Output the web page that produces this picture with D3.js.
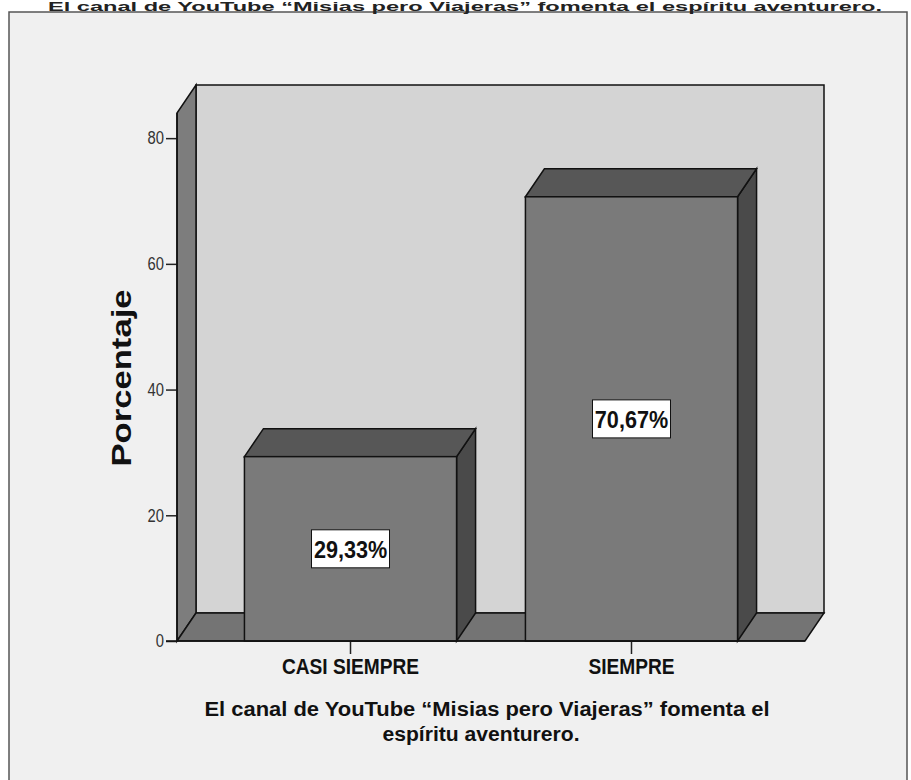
<html>
<style>
body { margin: 0; background: #fff; }
.axis path, .axis line { stroke: #222; }
.axis text { font-family: "Liberation Sans", Arial, sans-serif; }
</style>
<svg width="911" height="780"></svg>
<script src="https://d3js.org/d3.v7.min.js"></script>
<script>

var categories = ["CASI SIEMPRE", "SIEMPRE"];
var values = [29.33, 70.67];
var valueLabels = ["29,33%", "70,67%"];
var yTicks = [0, 20, 40, 60, 80];

var svg = d3.select("svg");
var sans = '"Liberation Sans", Arial, sans-serif';

// squeeze text horizontally to look like Arial Narrow
function narrowize(sel, f) {
    sel.each(function() {
        var w = this.getComputedTextLength();
        d3.select(this).attr("textLength", w * f).attr("lengthAdjust", "spacingAndGlyphs");
    });
}

// 3d depth offset
var dx = 19, dy = -28;

var x = d3.scaleBand()
    .domain(categories)
    .range([177, 805])
    .paddingInner(0.245)
    .paddingOuter(0.24);

var y = d3.scaleLinear()
    .domain([0, 84])
    .range([641, 113]);

// panel
svg.append("rect")
    .attr("x", 9).attr("y", 12)
    .attr("width", 898).attr("height", 800)
    .attr("fill", "#f0f0f0")
    .attr("stroke", "#555")
    .attr("stroke-width", 1.5);

// title at top
svg.append("text")
    .attr("x", 465).attr("y", 10.5)
    .attr("text-anchor", "middle")
    .style("font-family", sans)
    .style("font-weight", "bold")
    .style("font-size", "12px")
    .attr("textLength", 834)
    .attr("lengthAdjust", "spacingAndGlyphs")
    .attr("fill", "#222")
    .text("El canal de YouTube \u201cMisias pero Viajeras\u201d fomenta el espíritu aventurero.");

var x0 = x.range()[0], x1 = x.range()[1], y0 = y(0), yTop = y(84);

function poly(pts) { return "M" + pts.map(p => p.join(",")).join("L") + "Z"; }

// back wall
svg.append("path")
    .attr("d", poly([[x0 + dx, yTop + dy], [x1 + dx, yTop + dy], [x1 + dx, y0 + dy], [x0 + dx, y0 + dy]]))
    .attr("fill", "#d4d4d4").attr("stroke", "#111").attr("stroke-width", 1.5);

// left wall
svg.append("path")
    .attr("d", poly([[x0, y0], [x0, yTop], [x0 + dx, yTop + dy], [x0 + dx, y0 + dy]]))
    .attr("fill", "#7d7d7d").attr("stroke", "#111").attr("stroke-width", 1.5);

// floor
svg.append("path")
    .attr("d", poly([[x0, y0], [x1, y0], [x1 + dx, y0 + dy], [x0 + dx, y0 + dy]]))
    .attr("fill", "#747474").attr("stroke", "#111").attr("stroke-width", 1.5);

var data = categories.map((c, i) => ({cat: c, val: values[i], lab: valueLabels[i]}));

var bars = svg.selectAll(".bar").data(data).enter().append("g").attr("class", "bar");

// side face
bars.append("path")
    .attr("d", d => {
        var r = x(d.cat) + x.bandwidth();
        return poly([[r, y(d.val)], [r + dx, y(d.val) + dy], [r + dx, y0 + dy], [r, y0]]);
    })
    .attr("fill", "#4a4a4a").attr("stroke", "#111").attr("stroke-width", 1.5);

// top face
bars.append("path")
    .attr("d", d => {
        var l = x(d.cat), r = l + x.bandwidth(), t = y(d.val);
        return poly([[l, t], [l + dx, t + dy], [r + dx, t + dy], [r, t]]);
    })
    .attr("fill", "#575757").attr("stroke", "#111").attr("stroke-width", 1.5);

// front face
bars.append("rect")
    .attr("x", d => x(d.cat))
    .attr("y", d => y(d.val))
    .attr("width", x.bandwidth())
    .attr("height", d => y0 - y(d.val))
    .attr("fill", "#7a7a7a").attr("stroke", "#111").attr("stroke-width", 1.5);

// value labels
bars.append("rect")
    .attr("x", d => x(d.cat) + x.bandwidth() / 2 - 39)
    .attr("y", d => (y(d.val) + y0) / 2 - 19)
    .attr("width", 78).attr("height", 38)
    .attr("fill", "#fff").attr("stroke", "#111").attr("stroke-width", 1);

bars.append("text")
    .attr("x", d => x(d.cat) + x.bandwidth() / 2)
    .attr("y", d => (y(d.val) + y0) / 2 + 9)
    .attr("text-anchor", "middle")
    .style("font-family", sans)
    .style("font-weight", "bold")
    .style("font-size", "24px")
    .attr("fill", "#111")
    .text(d => d.lab)
    .call(narrowize, 0.9);

// y axis
svg.append("g")
    .attr("class", "axis")
    .attr("transform", "translate(" + x0 + ",0)")
    .call(d3.axisLeft(y).tickValues(yTicks).tickSize(11).tickSizeOuter(0).tickPadding(2))
    .call(g => g.select(".domain").remove())
    .call(g => g.selectAll("text").style("font-size", "18px").attr("fill", "#333").call(narrowize, 0.82))
    .call(g => g.selectAll("line").attr("stroke-width", 1.5));

svg.append("line")
    .attr("x1", x0).attr("x2", x0).attr("y1", y0).attr("y2", yTop)
    .attr("stroke", "#111").attr("stroke-width", 1.5);

// x axis
svg.append("g")
    .attr("class", "axis")
    .attr("transform", "translate(0," + y0 + ")")
    .call(d3.axisBottom(x).tickSize(13).tickSizeOuter(0).tickPadding(4))
    .call(g => g.select(".domain").remove())
    .call(g => g.selectAll("text").style("font-size", "22px").style("font-weight", "bold").attr("fill", "#111").call(narrowize, 0.87))
    .call(g => g.selectAll("line").attr("stroke-width", 1.5));

svg.append("line")
    .attr("x1", x0 - 11).attr("x2", x1).attr("y1", y0).attr("y2", y0)
    .attr("stroke", "#111").attr("stroke-width", 1.5);

// axis titles
svg.append("text")
    .attr("transform", "translate(131,378) rotate(-90)")
    .attr("text-anchor", "middle")
    .style("font-family", sans)
    .style("font-weight", "bold")
    .style("font-size", "27px")
    .attr("textLength", 177)
    .attr("lengthAdjust", "spacingAndGlyphs")
    .attr("fill", "#111")
    .text("Porcentaje");

var xTitle = svg.append("text")
    .attr("text-anchor", "middle")
    .style("font-family", sans)
    .style("font-weight", "bold")
    .style("font-size", "20px")
    .attr("fill", "#111");
xTitle.append("tspan").attr("x", 487).attr("y", 716)
    .attr("textLength", 565).attr("lengthAdjust", "spacingAndGlyphs")
    .text("El canal de YouTube \u201cMisias pero Viajeras\u201d fomenta el");
xTitle.append("tspan").attr("x", 481).attr("y", 741)
    .attr("textLength", 197).attr("lengthAdjust", "spacingAndGlyphs")
    .text("espíritu aventurero.");

</script>
</html>
